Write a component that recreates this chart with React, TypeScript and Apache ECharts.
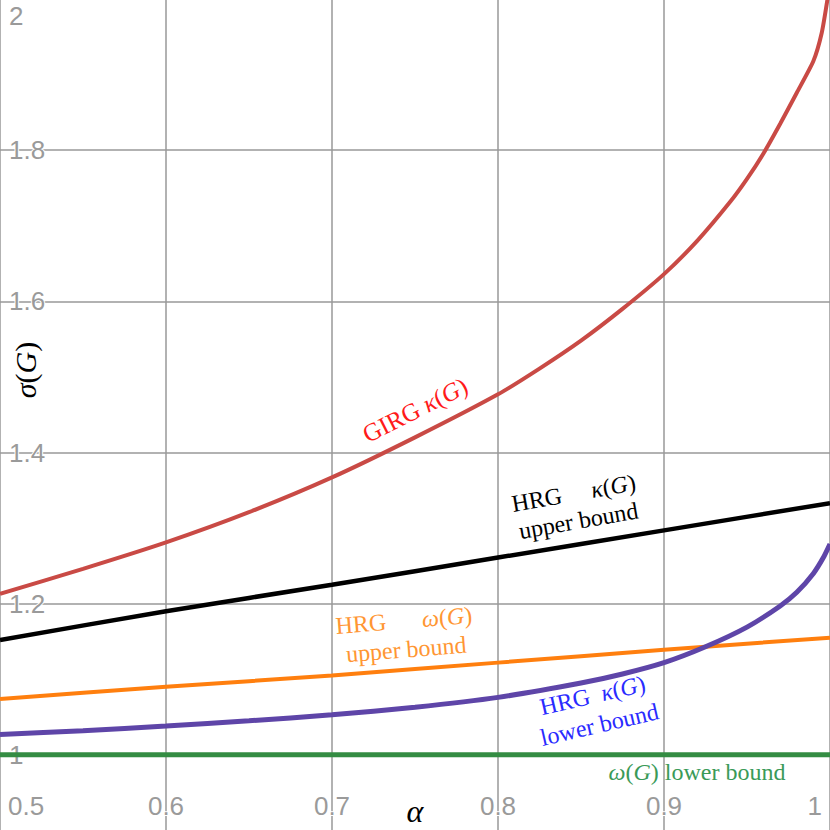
import React, { useEffect, useRef } from "react";
import * as echarts from "echarts";

// x positions (alpha) and values
const alphaRed = [0.5, 0.55, 0.6, 0.65, 0.7, 0.75, 0.8, 0.825, 0.85, 0.875, 0.9, 0.92, 0.94, 0.95, 0.96, 0.97, 0.98, 0.99, 0.995, 0.9985];
const girgKappa = [1.213, 1.246, 1.281, 1.321, 1.367, 1.42, 1.477, 1.511, 1.548, 1.59, 1.636, 1.68, 1.732, 1.762, 1.796, 1.835, 1.876, 1.918, 1.955, 2.0];

const alphaLin = [0.5, 0.6, 0.7, 0.8, 0.9, 1.0];
const hrgKappaUpper = [1.152, 1.19, 1.225, 1.261, 1.297, 1.333];
const hrgOmegaUpper = [1.074, 1.09, 1.105, 1.122, 1.139, 1.155];

const alphaPurple = [0.5, 0.55, 0.6, 0.65, 0.7, 0.75, 0.8, 0.85, 0.875, 0.9, 0.925, 0.95, 0.97, 0.98, 0.99, 0.996, 1.0];
const hrgKappaLower = [1.027, 1.032, 1.038, 1.045, 1.053, 1.063, 1.076, 1.095, 1.107, 1.122, 1.143, 1.169, 1.197, 1.215, 1.24, 1.261, 1.279];

const alphaGreen = [0.5, 1.0];
const omegaLower = [1.0, 1.0];

const xTickStep = 0.1;
const yTickStep = 0.2;

const zip = (xs: number[], ys: number[]) => xs.map((x, i) => [x, ys[i]]);

const SERIF = "'Liberation Serif', 'DejaVu Serif', serif";
const SANS = "'Liberation Sans', Arial, sans-serif";

// chart canvas is taller than the visible page so that the y range 0.9..2.0 fills the window
const CHART_H = 907;
const CHART_TOP = -1;

function mathText(
  x: number,
  y: number,
  rotation: number,
  text: string,
  color: string,
  fontSize = 24,
  lineHeight = 29
) {
  const tok = { fontSize, fontFamily: SERIF, fill: color, lineHeight };
  return {
    type: "text",
    x,
    y: y - CHART_TOP,
    rotation,
    z: 100,
    style: {
      text,
      fill: color,
      fontSize,
      fontFamily: SERIF,
      align: "center",
      verticalAlign: "middle",
      lineHeight,
      rich: {
        i: { ...tok, fontStyle: "italic" },
        r: { ...tok },
      },
    },
  };
}

const NB = "\u00a0";

export default function App() {
  const ref = useRef<HTMLDivElement>(null);

  useEffect(() => {
    if (!ref.current) return;
    const chart = echarts.init(ref.current, undefined, { renderer: "svg" });
    const lineSeries = (name: string, data: number[][], color: string, width: number) => ({
      name,
      type: "line",
      data,
      showSymbol: false,
      smooth: 0.2,
      clip: true,
      lineStyle: { color, width },
      itemStyle: { color },
    });
    chart.setOption({
      animation: false,
      backgroundColor: "#ffffff",
      grid: { left: 0, right: 0, top: 0, bottom: 0, containLabel: false },
      xAxis: {
        type: "value",
        min: 0.5,
        max: 1.0,
        interval: xTickStep,
        axisLine: { show: false },
        axisTick: { show: false },
        splitLine: { show: true, lineStyle: { color: "#999999", width: 1.5 } },
        axisLabel: {
          inside: true,
          margin: 100,
          verticalAlign: "middle",
          color: "#9a9a9a",
          fontSize: 26,
          fontFamily: SANS,
          textBorderColor: "#ffffff",
          textBorderWidth: 2,
          alignMinLabel: "left",
          alignMaxLabel: "right",
          padding: [0, 8, 0, 8],
        },
      },
      yAxis: {
        type: "value",
        min: 0.8,
        max: 2.0,
        interval: yTickStep,
        axisLine: { show: false },
        axisTick: { show: false },
        splitLine: { show: true, lineStyle: { color: "#999999", width: 1.5 } },
        axisLabel: {
          inside: true,
          margin: 9,
          color: "#9a9a9a",
          fontSize: 26,
          fontFamily: SANS,
          textBorderColor: "#ffffff",
          textBorderWidth: 2,
          showMinLabel: false,
          verticalAlignMaxLabel: "top",
          padding: [4, 0, 0, 0],
        },
      },
      series: [
        lineSeries("GIRG κ(G)", zip(alphaRed, girgKappa), "#c94a45", 4),
        lineSeries("HRG κ(G) upper bound", zip(alphaLin, hrgKappaUpper), "#000000", 4.5),
        lineSeries("HRG ω(G) upper bound", zip(alphaLin, hrgOmegaUpper), "#ff7f0e", 4),
        lineSeries("HRG κ(G) lower bound", zip(alphaPurple, hrgKappaLower), "#5e45a8", 5),
        lineSeries("ω(G) lower bound", zip(alphaGreen, omegaLower), "#348c43", 5),
      ],
      graphic: [
        mathText(415, 410, 0.468, "GIRG {i|κ}({i|G})", "#ff1a1a", 25),
        mathText(576, 507, 0.175, `HRG${NB.repeat(5)}{i|κ}({i|G})\nupper bound`, "#000000", 24, 28),
        mathText(405, 635, 0.08, `HRG${NB.repeat(6)}{i|ω}({i|G})\nupper bound`, "#ff9633", 24, 29),
        mathText(596, 710, 0.227, `HRG${NB.repeat(2)}{i|κ}({i|G})\nlower bound`, "#2a2aff", 24, 30),
        mathText(697, 772, 0, "{i|ω}({i|G}) lower bound", "#3a9a58", 24),
        mathText(25, 370, Math.PI / 2, "{i|σ}({i|G})", "#000000", 30, 34),
        mathText(415, 811, 0, "{i|α}", "#000000", 32, 34),
      ],
    });
    return () => chart.dispose();
  }, []);

  return (
    <div
      style={{ position: "fixed", left: 0, top: 0, width: 830, height: 830, overflow: "hidden", background: "#fff" }}
    >
      <div
        ref={ref}
        style={{ position: "absolute", left: 0, top: CHART_TOP, width: 830, height: CHART_H }}
      />
    </div>
  );
}
